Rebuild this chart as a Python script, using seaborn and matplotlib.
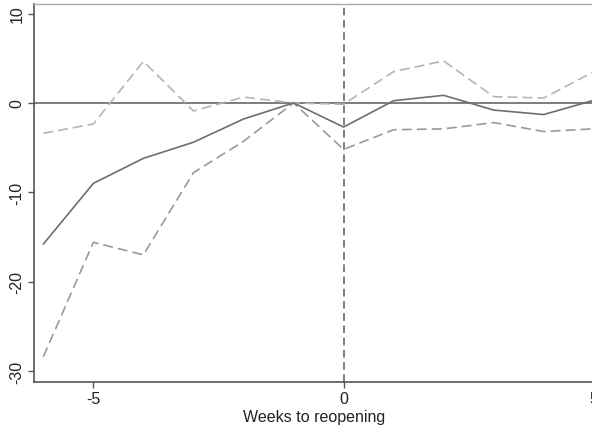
import numpy as np
import pandas as pd
import matplotlib
matplotlib.use("Agg")
import matplotlib.pyplot as plt
import seaborn as sns

# event-study estimates, weeks relative to reopening
weeks = [-6, -5, -4, -3, -2, -1, 0, 1, 2, 3, 4, 5]
estimate = [-15.8, -9.0, -6.2, -4.4, -1.8, 0.0, -2.7, 0.25, 0.85, -0.8, -1.3, 0.3]
upper_ci = [-3.4, -2.35, 4.65, -0.9, 0.65, 0.0, -0.15, 3.5, 4.7, 0.7, 0.55, 3.5]
lower_ci = [-28.4, -15.6, -17.0, -7.8, -4.3, 0.0, -5.2, -3.0, -2.9, -2.2, -3.2, -2.9]

df = pd.DataFrame({"week": weeks, "estimate": estimate,
                   "upper": upper_ci, "lower": lower_ci})

sns.set_style("white")
plt.rcParams['font.family'] = ['Liberation Sans', 'DejaVu Sans']
plt.rcParams['axes.unicode_minus'] = False

fig = plt.figure(figsize=(5.92, 4.31), dpi=100)
ax = fig.add_axes([0.058, 0.112, 0.945, 0.877])

ax.axhline(0, color="#5a5a5a", lw=1.1, zorder=1)
ax.axvline(0, color="#5a5a5a", lw=1.1, ls=(0, (5, 3)), zorder=1)

sns.lineplot(data=df, x="week", y="upper", ax=ax, color="#b5b5b5", lw=1.2,
             linestyle=(0, (6, 3)))
sns.lineplot(data=df, x="week", y="lower", ax=ax, color="#9a9a9a", lw=1.2,
             linestyle=(0, (6, 3)))
sns.lineplot(data=df, x="week", y="estimate", ax=ax, color="#6e6e6e", lw=1.2)

ax.set_xlim(-6.18, 5.0)
ax.set_ylim(-31.2, 11.1)
ax.set_xticks([-5, 0, 5])
ax.set_yticks([-30, -20, -10, 0, 10])
ax.set_xlabel("Weeks to reopening", fontsize=11.5, labelpad=2, color="#222222")
ax.set_ylabel("")
for lab in ax.get_yticklabels():
    lab.set_rotation(90)
    lab.set_va("center")
ax.tick_params(axis="both", length=4, width=1, color="#555555",
               labelsize=11.5, labelcolor="#222222", pad=3, direction="out",
               bottom=True, left=True)

for side in ["left", "bottom"]:
    ax.spines[side].set_color("#555555")
    ax.spines[side].set_linewidth(1.2)
ax.spines["top"].set_color("#aaaaaa")
ax.spines["top"].set_linewidth(1.0)
ax.spines["right"].set_visible(False)

fig.savefig("out.png", dpi=100)
